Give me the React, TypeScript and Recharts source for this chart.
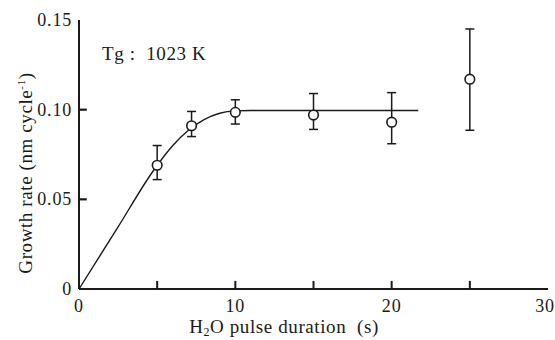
import {
  ComposedChart,
  Line,
  Scatter,
  ErrorBar,
  XAxis,
  YAxis,
  ReferenceLine,
  Customized,
} from "recharts";

// measured points
const pulseTimes = [5, 7.2, 10, 15, 20, 25];
const growthRates = [0.069, 0.091, 0.0985, 0.097, 0.093, 0.117];
const errLow = [0.008, 0.006, 0.0065, 0.008, 0.012, 0.0285];
const errHigh = [0.011, 0.008, 0.007, 0.012, 0.0165, 0.028];

// fitted saturation curve
const fitX = [0, 2.4, 4.8, 6, 7, 8, 9, 10, 11, 21.7];
const fitY = [0, 0.0332, 0.0665, 0.08, 0.0885, 0.0945, 0.098, 0.0993, 0.0995, 0.0995];

const xTicks = [0, 5, 10, 15, 20, 25, 30];
const xLabels = [0, 10, 20, 30];
const yTicks = [0, 0.05, 0.1, 0.15];
const yLabels = ["0", "0.05", "0.10", "0.15"];

const points = pulseTimes.map((t, i) => ({
  t,
  rate: growthRates[i],
  err: [errLow[i], errHigh[i]],
}));
const fit = fitX.map((t, i) => ({ t, rate: fitY[i] }));

const FONT = "'Liberation Serif', 'Times New Roman', serif";
const INK = "#1a1a1a";
const W = 555;
const H = 340;
// inward tick length, in axis units (about 8px)
const X_TICK_LEN = 0.0045;
const Y_TICK_LEN = 0.5;

function XTick(props: any) {
  const { x, y, payload } = props;
  const v = payload.value;
  if (!xLabels.includes(v)) return <g />;
  return (
    <text x={v === 30 ? x - 3 : x} y={y + 23} textAnchor="middle" fontSize={18} letterSpacing={0.8} fontFamily={FONT} fill={INK}>
      {String(v)}
    </text>
  );
}

function YTick(props: any) {
  const { x, y, index } = props;
  return (
    <text x={x - 7} y={y + 6} textAnchor="end" fontSize={18} letterSpacing={0.8} fontFamily={FONT} fill={INK}>
      {yLabels[index]}
    </text>
  );
}

function Circle(props: any) {
  return <circle cx={props.cx} cy={props.cy} r={4.8} fill="#fff" stroke={INK} strokeWidth={1.6} />;
}

function Annotations() {
  return (
    <g fontFamily={FONT} fill={INK} letterSpacing={0.6}>
      <text x={102} y={60} fontSize={19} style={{ whiteSpace: "pre" }}>
        {"Tg :  1023 K"}
      </text>
      <text x={284} y={333} fontSize={19} textAnchor="middle" style={{ whiteSpace: "pre" }}>
        H<tspan fontSize={12} dy={3}>2</tspan>
        <tspan dy={-3}>{"O pulse duration  (s)"}</tspan>
      </text>
      <text
        x={0}
        y={0}
        fontSize={19}
        textAnchor="middle"
        transform="translate(32,173) rotate(-90)"
      >
        Growth rate (nm cycle<tspan fontSize={11} dy={-7}>-1</tspan>
        <tspan dy={7}>)</tspan>
      </text>
    </g>
  );
}

// frame and tick labels
function Frame() {
  return (
    <ComposedChart width={W} height={H} data={fit} margin={{ top: 20, right: 7, bottom: 0, left: 0 }}>
      <XAxis
        dataKey="t"
        type="number"
        domain={[0, 30]}
        ticks={xTicks}
        interval={0}
        height={51}
        tickSize={0}
        tickMargin={0}
        tickLine={false}
        axisLine={{ stroke: INK, strokeWidth: 2 }}
        tick={<XTick />}
      />
      <XAxis
        xAxisId="top"
        orientation="top"
        type="number"
        domain={[0, 30]}
        height={0}
        tick={false}
        tickLine={false}
        axisLine={{ stroke: "#666", strokeWidth: 1.3 }}
      />
      <YAxis
        type="number"
        domain={[0, 0.15]}
        ticks={yTicks}
        interval={0}
        width={79}
        tickSize={0}
        tickMargin={0}
        tickLine={false}
        axisLine={{ stroke: INK, strokeWidth: 2 }}
        tick={<YTick />}
      />
      <YAxis
        yAxisId="right"
        orientation="right"
        type="number"
        domain={[0, 0.15]}
        width={0}
        tick={false}
        tickLine={false}
        axisLine={{ stroke: "#666", strokeWidth: 1.3 }}
      />
      <Line dataKey="rate" stroke="none" dot={false} isAnimationActive={false} />
    </ComposedChart>
  );
}

// inward tick marks, curve, points with error bars, and texts
function Series() {
  return (
    <ComposedChart width={W} height={H} data={fit} margin={{ top: 20, right: 7, bottom: 51, left: 79 }}>
      <XAxis dataKey="t" type="number" domain={[0, 30]} hide />
      <YAxis type="number" domain={[0, 0.15]} hide />
      {xTicks.slice(1, -1).map((t) => (
        <ReferenceLine
          key={"x" + t}
          segment={[{ x: t, y: 0 }, { x: t, y: X_TICK_LEN }]}
          stroke={INK}
          strokeWidth={2}
        />
      ))}
      {yTicks.slice(1, -1).map((v) => (
        <ReferenceLine
          key={"y" + v}
          segment={[{ x: 0, y: v }, { x: Y_TICK_LEN, y: v }]}
          stroke={INK}
          strokeWidth={2.2}
        />
      ))}
      <Line
        dataKey="rate"
        type="monotone"
        stroke={INK}
        strokeWidth={1.4}
        dot={false}
        activeDot={false}
        isAnimationActive={false}
      />
      <Scatter data={points} dataKey="rate" shape={<Circle />} isAnimationActive={false}>
        <ErrorBar dataKey="err" direction="y" width={4.5} stroke={INK} strokeWidth={1.5} />
      </Scatter>
      <Customized component={<Annotations />} />
    </ComposedChart>
  );
}

export default function App() {
  return (
    <div style={{ position: "absolute", left: 0, top: 0, width: W, height: H, background: "#fff" }}>
      <div style={{ position: "absolute", left: 0, top: 0 }}>
        <Frame />
      </div>
      <div style={{ position: "absolute", left: 0, top: 0 }}>
        <Series />
      </div>
    </div>
  );
}
